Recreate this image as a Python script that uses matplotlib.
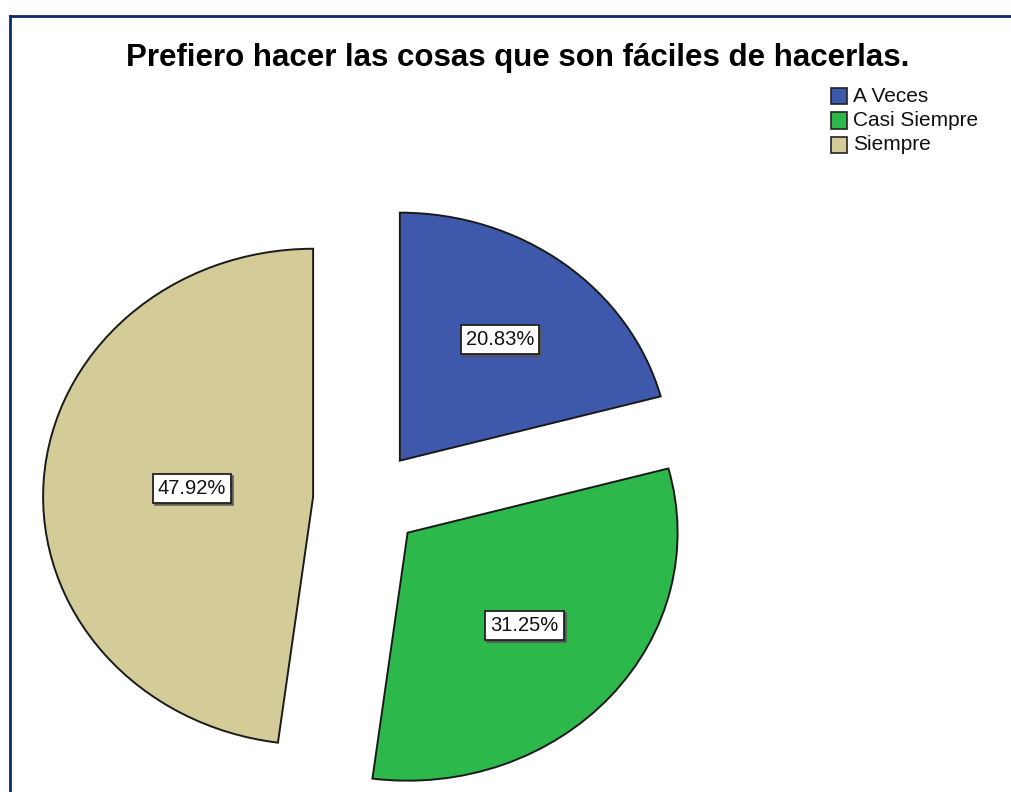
import matplotlib
matplotlib.use("Agg")
import matplotlib.pyplot as plt
from matplotlib.transforms import offset_copy
import numpy as np

categories = ["A Veces", "Casi Siempre", "Siempre"]
values = [20.83, 31.25, 47.92]
pct_labels = ["20.83%", "31.25%", "47.92%"]
colors = ["#3E58AC", "#2DB84B", "#D3CC98"]

plt.rcParams['font.family'] = ['Liberation Sans', 'DejaVu Sans']

W, H = 1011, 792
fig = plt.figure(figsize=(W / 100, H / 100), dpi=100)

# pie axes: center at (367, 500) px from top-left, rx=270, ry=248
cx, cy = 367, 500
rx, ry = 270, 248
aw, ah = 2.5 * rx, 2.5 * ry
ax = fig.add_axes([(cx - aw / 2) / W, (H - cy - ah / 2) / H, aw / W, ah / H])

wedges, _ = ax.pie(values, colors=colors, startangle=90, counterclock=False,
                   explode=[0.2, 0.2, 0.2],
                   wedgeprops=dict(edgecolor="#1a1a1a", linewidth=1.4))
ax.set_aspect('auto')
ax.set_xlim(-1.25, 1.25)
ax.set_ylim(-1.25, 1.25)
ax.axis('off')

label_dist = [0.61, 0.575, 0.45]
shadow_tr = offset_copy(ax.transData, fig=fig, x=2, y=-2, units='dots')
for w, lab, d in zip(wedges, pct_labels, label_dist):
    thm = np.deg2rad((w.theta1 + w.theta2) / 2)
    x0, y0 = w.center
    tx, ty = x0 + d * np.cos(thm), y0 + d * np.sin(thm) + 0.005
    ax.text(tx, ty, lab, transform=shadow_tr,
            ha='center', va='center', fontsize=14.5, color='none',
            bbox=dict(boxstyle='square,pad=0.25', facecolor='#555555',
                      edgecolor='#555555', linewidth=1.3, alpha=0.8))
    ax.text(tx, ty, lab,
            ha='center', va='center', fontsize=14.5, color='#111111',
            bbox=dict(boxstyle='square,pad=0.25', facecolor='white',
                      edgecolor='#222222', linewidth=1.3))

# title
fig.text(518 / W, 1 - 58 / H, "Prefiero hacer las cosas que son fáciles de hacerlas.",
         ha='center', va='center', fontsize=22.5, fontweight='bold', color='black')

# legend (manual)
for i, (cat, col) in enumerate(zip(categories, colors)):
    yc = 96 + i * 24.5
    fig.patches.append(plt.Rectangle((831 / W, 1 - (yc + 8) / H), 16 / W, 16 / H,
                                     transform=fig.transFigure, facecolor=col,
                                     edgecolor='#222222', linewidth=1.2))
    fig.text(853 / W, 1 - yc / H, cat, ha='left', va='center', fontsize=15,
             color='#111111')

# frame lines (top and left)
fig.add_artist(plt.Line2D([10 / W, 1], [1 - 16 / H, 1 - 16 / H],
                          transform=fig.transFigure, color='#0B2A6E', linewidth=2))
fig.add_artist(plt.Line2D([10 / W, 10 / W], [0, 1 - 16 / H],
                          transform=fig.transFigure, color='#0B2A6E', linewidth=2))

fig.savefig("out.png", dpi=100, facecolor='white')
